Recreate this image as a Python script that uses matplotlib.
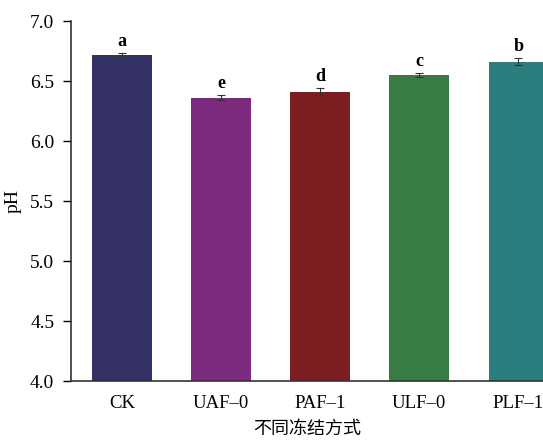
import numpy as np
import matplotlib
matplotlib.use('Agg')
import matplotlib.pyplot as plt

# data
groups = ['CK', 'UAF\u20130', 'PAF\u20131', 'ULF\u20130', 'PLF\u20131']
ph_mean = [6.72, 6.36, 6.41, 6.55, 6.66]
ph_err = [0.01, 0.02, 0.03, 0.015, 0.03]
letters = ['a', 'e', 'd', 'c', 'b']
colors = ['#343264', '#7b2a7e', '#7a1e22', '#3a7d44', '#2a7e7e']

plt.rcParams['font.family'] = ['Liberation Serif', 'Noto Sans CJK SC']

fig = plt.figure(figsize=(5.43, 4.41), dpi=100)
ax = fig.add_axes([71 / 543, 60 / 441, 1 - 71 / 543, 360 / 441])

x = np.arange(len(groups))
ax.bar(x, ph_mean, width=0.6, color=colors, yerr=ph_err,
       error_kw=dict(ecolor='#333333', elinewidth=0.8, capsize=3, capthick=0.8))

# significance letters
for i in range(len(groups)):
    ax.text(x[i], ph_mean[i] + ph_err[i] + 0.025, letters[i], ha='center',
            va='bottom', fontsize=13, fontweight='bold')

ax.set_ylim(4.0, 7.0)
ax.set_xlim(-0.515, 4.25)
ax.set_yticks(np.arange(4.0, 7.01, 0.5))
ax.set_yticklabels(['%.1f' % v for v in np.arange(4.0, 7.01, 0.5)])
ax.set_xticks(x)
ax.set_xticklabels(groups)
ax.tick_params(axis='y', direction='out', length=6, width=1, labelsize=14, pad=6)
ax.tick_params(axis='x', length=0, labelsize=13.5, pad=10)

for s in ['top', 'right']:
    ax.spines[s].set_visible(False)
for s in ['left', 'bottom']:
    ax.spines[s].set_linewidth(1.2)
    ax.spines[s].set_color('#333333')

ax.set_ylabel('pH', fontsize=14, labelpad=6)
ax.set_xlabel('不同冻结方式', fontsize=13, family=['Noto Sans CJK SC'], labelpad=6)

fig.savefig('out.png', dpi=100)
